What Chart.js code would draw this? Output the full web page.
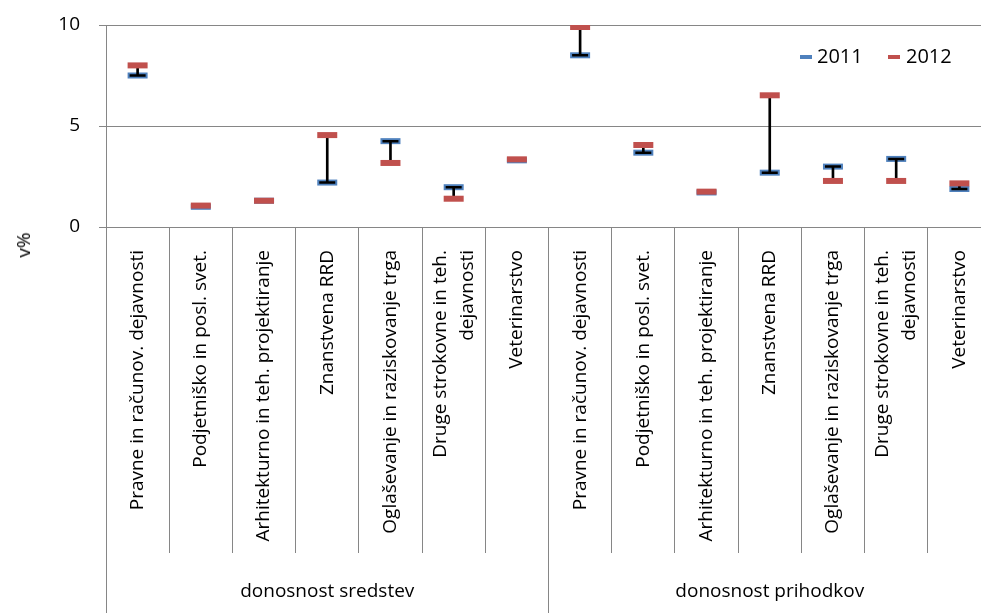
<!DOCTYPE html>
<html>
<head>
<meta charset="utf-8">
<script src="https://cdn.jsdelivr.net/npm/chart.js@4.4.1/dist/chart.umd.min.js"></script>
<style>
  html, body { margin: 0; padding: 0; background: #fff; overflow: hidden; }
  #wrap { position: relative; width: 992px; height: 613px; }
  .key { position: absolute; width: 12px; height: 4px; }
  .txt { position: absolute; font-family: "Open Sans", sans-serif; font-size: 20px; line-height: 24px; color: #000; white-space: nowrap; }
  #ytitle { position: absolute; left: 23px; top: 245px; transform: translate(-50%, -50%) rotate(-90deg); font-family: "Open Sans", sans-serif; font-size: 19px; color: #000; }
</style>
</head>
<body>
<div id="wrap">
  <canvas id="chart" width="992" height="613"></canvas>
  <div id="ytitle">v%</div>
  <div class="key" style="left:800px;top:55px;background:#4F81BD"></div>
  <div class="txt" style="left:817px;top:44px">2011</div>
  <div class="key" style="left:888px;top:55px;background:#C0504D"></div>
  <div class="txt" style="left:906px;top:44px">2012</div>
</div>
<script>
// two groups of the same seven activities
const activities = [
  'Pravne in računov. dejavnosti',
  'Podjetniško in posl. svet.',
  'Arhitekturno in teh. projektiranje',
  'Znanstvena RRD',
  'Oglaševanje in raziskovanje trga',
  ['Druge strokovne in teh.', 'dejavnosti'],
  'Veterinarstvo'
];
const groups = ['donosnost sredstev', 'donosnost prihodkov'];
const labels = activities.concat(activities);

const v2011 = [7.5, 1.0, 1.3, 2.2, 4.25, 1.97, 3.3, 8.5, 3.68, 1.71, 2.69, 2.99, 3.37, 1.88];
const v2012 = [8.0, 1.06, 1.3, 4.55, 3.17, 1.4, 3.35, 9.9, 4.06, 1.75, 6.52, 2.28, 2.28, 2.16];

const yTicks = [0, 5, 10];

const grey = '#868686';
const fam = '"Open Sans", sans-serif';
const font = { family: fam, size: 19 };
const LH = 27; // px between the two lines of a wrapped label

const ranges = v2011.map((v, i) => [Math.min(v, v2012[i]), Math.max(v, v2012[i])]);

function marker(label, data, color, order) {
  return {
    type: 'line', label, data, order,
    showLine: false,
    pointStyle: 'line', pointRadius: 10, pointBorderWidth: 6,
    pointBorderColor: color, pointBackgroundColor: color,
    borderColor: color
  };
}
function cap(data) {
  return {
    type: 'line', data, order: 2,
    showLine: false,
    pointStyle: 'line', pointRadius: 8, pointBorderWidth: 2.5,
    pointBorderColor: '#000', borderColor: '#000'
  };
}

// chart.js puts the first line of a rotated label on the tick; pad single
// labels with an empty half-height line so wrapped ones can sit centred
const isWrapped = i => Array.isArray(labels[i]);

new Chart(document.getElementById('chart').getContext('2d'), {
  data: {
    labels,
    datasets: [
      marker('2011', v2011, '#4F81BD', 4),
      { type: 'bar', data: ranges, order: 3, backgroundColor: '#000', barThickness: 2 },
      cap(v2011),
      cap(v2012),
      marker('2012', v2012, '#C0504D', 1)
    ]
  },
  options: {
    responsive: false,
    animation: false,
    events: [],
    layout: { autoPadding: false, padding: { top: 25, right: 1, left: 0, bottom: 0 } },
    plugins: { legend: { display: false }, tooltip: { enabled: false } },
    scales: {
      y: {
        min: 0, max: 10,
        afterBuildTicks: s => { s.ticks = yTicks.map(v => ({ value: v })); },
        ticks: { color: '#000', font, padding: 19 },
        grid: { color: grey, tickLength: 7 },
        border: { color: grey },
        afterFit: s => { s.width = 106; s.paddingTop = 0; s.paddingBottom = 0; }
      },
      x: {
        offset: true,
        weight: 0,
        grid: { offset: true, drawOnChartArea: false, tickLength: 326, color: grey },
        border: { display: false },
        ticks: {
          autoSkip: false, minRotation: 90, maxRotation: 90, padding: -303,
          labelOffset: -LH / 2,
          color: '#000',
          font: c => ({ family: fam, size: 19, lineHeight: (isWrapped(c.index) ? LH : LH / 2) + 'px' }),
          callback: (v, i) => isWrapped(i) ? labels[i] : ['', labels[i]]
        },
        afterFit: s => { s.height = 326; s.paddingLeft = 0; s.paddingRight = 0; }
      },
      xg: {
        type: 'category',
        labels: groups,
        position: 'bottom',
        offset: true,
        weight: 1,
        grid: { offset: true, drawOnChartArea: false, tickLength: 60, color: grey },
        border: { display: false },
        ticks: { padding: -33, color: '#000', font },
        afterFit: s => { s.height = 60; s.paddingLeft = 0; s.paddingRight = 0; }
      }
    }
  }
});
</script>
</body>
</html>
